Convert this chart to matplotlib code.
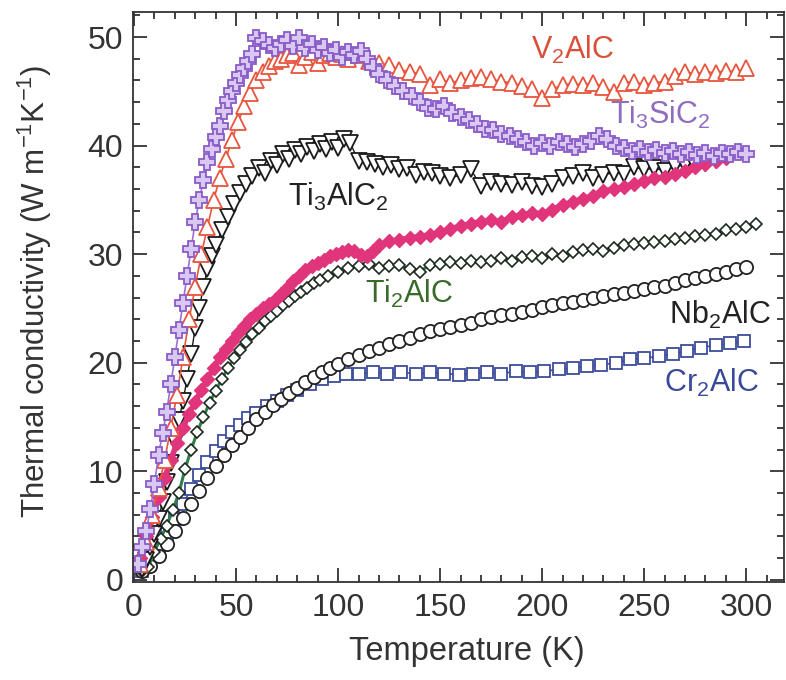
import matplotlib
matplotlib.use("Agg")
import matplotlib.pyplot as plt
from matplotlib.ticker import MultipleLocator

plt.rcParams["font.family"] = ["Liberation Sans", "DejaVu Sans"]
plt.rcParams["mathtext.fontset"] = "custom"
plt.rcParams["mathtext.rm"] = "Liberation Sans"
plt.rcParams["mathtext.it"] = "Liberation Sans"
plt.rcParams["mathtext.default"] = "rm"

# Ti3SiC2 (purple crosses)
ti3sic2_t = [2, 4, 6, 8, 10, 12, 14, 16, 18, 20, 22, 24, 26, 28, 30, 32, 34, 36, 38, 40,
             42, 44, 46, 48, 50, 52, 54, 56, 58, 60,
             63, 66, 69, 72, 75, 78, 81, 84, 87, 90, 93, 96, 99, 102, 105, 108, 111, 114, 117, 120,
             124, 128, 132, 136, 140, 144, 148, 152, 156, 160, 164, 168, 172, 176, 180, 184, 188,
             192, 196, 200, 204, 208, 212, 216, 220, 224, 228, 232, 236, 240, 244, 248, 252, 256,
             260, 264, 268, 272, 276, 280, 284, 288, 292, 296, 300]
ti3sic2_k = [1.5, 3.0, 4.5, 6.5, 8.8, 11.5, 13.5, 15.5, 18.0, 20.5, 23.0, 25.5, 28.0, 30.5, 33.0,
             35.0, 36.8, 38.5, 39.7, 40.8, 41.8, 43.2, 44.2, 45.0, 45.8, 46.5, 47.1, 47.8, 48.4, 49.9,
             49.6, 49.3, 49.0, 49.4, 49.7, 49.2, 49.9, 49.0, 49.4, 48.8, 49.1, 48.5, 48.8, 48.2,
             48.6, 48.3, 48.7, 48.0, 47.2, 46.6,
             46.0, 45.5, 45.0, 44.6, 44.0, 43.5, 43.4, 43.6, 43.0, 42.6, 42.4, 42.0, 41.5, 41.4,
             41.1, 40.9, 40.6, 40.3, 40.0, 40.2, 40.0, 40.3, 40.1, 39.9, 40.1, 40.4, 40.9, 40.6,
             40.0, 39.8, 39.5, 39.7, 39.4, 39.6, 39.3, 39.5, 39.2, 39.4, 39.1, 39.3, 39.0, 39.3,
             39.2, 39.4, 39.2]

# V2AlC (red triangles)
v2alc_t = [3, 6, 9, 12, 15, 18, 21, 24, 27, 30, 33, 36, 39, 42, 45, 48, 51, 54, 57, 60, 63, 66,
           69, 72, 75, 78, 81, 84, 87, 90, 93, 96, 99, 102, 105, 110, 115, 120, 125, 130, 135,
           140, 145, 150, 155, 160, 165, 170, 175, 180, 185, 190, 195, 200, 205, 210, 215, 220,
           225, 230, 235, 240, 245, 250, 255, 260, 265, 270, 275, 280, 285, 290, 295, 300]
v2alc_k = [1.5, 3.5, 6.0, 8.5, 11.0, 14.0, 17.0, 20.5, 24.0, 27.0, 30.0, 32.5, 35.0, 37.0, 38.8,
           40.5, 42.2, 43.6, 44.8, 46.0, 46.8, 47.3, 47.8, 48.0, 48.3, 48.5, 47.4, 48.2, 48.6,
           47.6, 48.3, 48.5, 48.2, 48.4, 48.0, 48.3, 47.8, 47.6, 47.4, 47.0, 46.8, 46.6, 45.6,
           46.1, 45.8, 46.0, 46.2, 46.3, 46.1, 45.9, 45.8, 45.5, 45.2, 44.4, 45.2, 45.6, 45.7,
           45.6, 45.8, 45.4, 44.9, 45.8, 45.9, 45.6, 45.8, 45.9, 46.4, 46.8, 46.6, 46.8, 46.7,
           46.9, 46.8, 47.1]

# Ti3AlC2 (black down triangles)
ti3alc2_t = [4, 6, 8, 10, 12, 14, 16, 18, 20, 22, 24, 26, 28, 30, 32, 34, 36, 38, 40, 43, 46, 49,
             52, 55, 58, 61, 64, 67, 70, 73, 76, 79, 82, 85, 88, 91, 94, 97, 100, 103, 106, 110,
             114, 118, 122, 126, 130, 134, 138, 142, 146, 150, 155, 160, 165, 170, 175, 180, 185,
             190, 195, 200, 205, 210, 215, 220, 225, 230, 235, 240, 245, 250, 255, 260, 265, 270,
             275, 280, 285]
ti3alc2_k = [1.0, 1.8, 3.0, 4.2, 5.6, 7.2, 9.0, 10.8, 12.7, 14.7, 16.5, 18.5, 20.8, 23.2, 25.0,
             27.0, 28.6, 29.8, 30.8, 32.2, 33.4, 34.6, 35.6, 36.5, 37.2, 37.9, 37.5, 38.6, 38.2,
             39.2, 38.8, 39.6, 39.2, 39.9, 39.5, 40.1, 39.7, 40.3, 39.8, 40.6, 40.2, 38.6, 38.5,
             38.3, 38.0, 38.2, 37.8, 37.9, 37.3, 37.6, 37.5, 37.2, 37.0, 37.3, 37.8, 36.3, 36.6,
             36.5, 36.4, 36.6, 36.3, 36.2, 36.5, 37.0, 37.2, 37.5, 37.0, 37.3, 37.5, 37.4, 38.0,
             37.8, 37.9, 37.7, 38.1, 38.2, 38.2, 38.4, 38.7]

# unlabelled pink series
pink_t = [3, 6, 9, 12, 15, 18, 21, 24, 27, 30, 33, 36, 39, 42, 45, 48, 51, 54, 57, 60, 63, 66, 69,
          72, 75, 78, 81, 84, 87, 90, 93, 96, 99, 102, 105, 108, 111, 114, 117, 120, 125, 130,
          135, 140, 145, 150, 155, 160, 165, 170, 175, 180, 185, 190, 195, 200, 205, 210, 215,
          220, 225, 230, 235, 240, 245, 250, 255, 260, 265, 270, 275, 280, 285, 290]
pink_k = [2.0, 4.0, 5.8, 7.6, 9.4, 11.0, 12.6, 14.0, 15.3, 16.4, 17.5, 18.5, 19.5, 20.5, 21.3,
          22.0, 22.7, 23.4, 24.0, 24.5, 25.0, 25.4, 25.8, 26.3, 26.9, 27.5, 28.0, 28.5, 28.9,
          29.2, 29.5, 29.8, 30.0, 30.2, 30.4, 30.3, 29.9, 29.8, 30.3, 30.8, 31.2, 31.3, 31.5,
          31.6, 31.8, 32.0, 32.3, 32.6, 32.8, 33.0, 33.1, 33.0, 33.4, 33.6, 33.8, 33.7, 34.1,
          34.5, 34.8, 35.1, 35.4, 35.8, 36.0, 36.2, 36.5, 36.7, 37.0, 37.1, 37.4, 37.7, 38.0,
          38.3, 38.6, 38.9]

# Ti2AlC (green)
ti2alc_t = [4, 7, 10, 13, 16, 19, 22, 25, 28, 31, 34, 37, 40, 43, 46, 49, 52, 55, 58, 61, 64, 67,
            70, 73, 76, 79, 82, 85, 88, 91, 95, 100, 105, 110, 115, 120, 125, 130, 135, 140, 145,
            150, 155, 160, 165, 170, 175, 180, 185, 190, 195, 200, 205, 210, 215, 220, 225, 230,
            235, 240, 245, 250, 255, 260, 265, 270, 275, 280, 285, 290, 295, 300, 305]
ti2alc_k = [0.8, 1.2, 2.6, 3.8, 5.0, 6.4, 8.0, 10.2, 12.0, 13.6, 15.0, 16.3, 17.4, 18.5, 19.5,
            20.4, 21.2, 21.9, 22.6, 23.2, 23.8, 24.3, 24.8, 25.3, 25.7, 26.1, 26.5, 26.9, 27.3,
            27.6, 28.0, 28.4, 28.7, 28.9, 29.1, 28.7, 28.9, 29.0, 28.6, 28.4, 29.0, 29.1, 29.3,
            29.2, 29.4, 29.3, 29.4, 29.6, 29.4, 29.7, 29.8, 29.6, 30.0, 29.8, 30.2, 30.4, 30.5,
            30.3, 30.6, 30.8, 30.9, 31.0, 31.1, 31.2, 31.4, 31.5, 31.7, 31.8, 31.9, 32.2, 32.3,
            32.5, 32.8]

# Nb2AlC (open circles)
nb2alc_t = [4, 8, 12, 16, 20, 24, 28, 32, 36, 40, 44, 48, 52, 56, 60, 64, 68, 72, 76, 80, 84, 88,
            92, 96, 100, 105, 110, 115, 120, 125, 130, 135, 140, 145, 150, 155, 160, 165, 170,
            175, 180, 185, 190, 195, 200, 205, 210, 215, 220, 225, 230, 235, 240, 245, 250, 255,
            260, 265, 270, 275, 280, 285, 290, 295, 300]
nb2alc_k = [0.8, 1.3, 2.2, 3.3, 4.5, 5.7, 7.0, 8.2, 9.4, 10.5, 11.5, 12.4, 13.2, 14.0, 14.8,
            15.5, 16.1, 16.7, 17.2, 17.7, 18.2, 18.7, 19.1, 19.5, 19.9, 20.3, 20.7, 21.1, 21.4,
            21.7, 22.0, 22.3, 22.6, 22.9, 23.1, 23.3, 23.5, 23.7, 24.0, 24.2, 24.4, 24.5, 24.7,
            24.9, 25.1, 25.3, 25.5, 25.6, 25.8, 26.0, 26.1, 26.3, 26.4, 26.6, 26.8, 27.0, 27.1,
            27.3, 27.6, 27.8, 28.0, 28.2, 28.4, 28.6, 28.8]

# Cr2AlC (blue squares)
cr2alc_t = [4, 8, 12, 16, 20, 24, 28, 32, 36, 40, 44, 48, 52, 56, 60, 65, 70, 75, 80, 86, 92, 98,
            104, 110, 117, 124, 131, 138, 145, 152, 159, 166, 173, 180, 187, 194, 201, 208, 215,
            222, 229, 236, 243, 250, 257, 264, 271, 278, 285, 292, 299]
cr2alc_k = [0.8, 1.5, 2.8, 4.2, 5.6, 7.0, 8.4, 9.7, 10.9, 11.9, 12.8, 13.6, 14.3, 14.9, 15.4,
            16.0, 16.5, 17.0, 17.5, 18.0, 18.5, 18.8, 19.0, 19.0, 19.1, 19.0, 19.1, 19.0, 19.1,
            19.0, 18.9, 19.0, 19.1, 19.0, 19.2, 19.1, 19.2, 19.4, 19.5, 19.7, 19.8, 20.0, 20.3,
            20.4, 20.6, 20.8, 21.1, 21.4, 21.6, 21.8, 22.0]

fig = plt.figure(figsize=(7.86, 6.8), dpi=100)
ax = fig.add_axes([0.1692, 0.1441, 0.8283, 0.8382])

ax.plot(cr2alc_t, cr2alc_k, color="#3d4c9c", lw=1.2, marker="s", ms=9, mfc="white",
        mec="#3d4c9c", mew=1.3)
ax.plot(nb2alc_t, nb2alc_k, color="#222222", lw=0.6, marker="o", ms=9.5, mfc="white",
        mec="#222222", mew=1.3)
ax.plot(ti2alc_t, ti2alc_k, color="#2e7d45", lw=2.2, marker="D", ms=6.5, mfc="white",
        mec="#1c2a1e", mew=1.2)
ax.plot(ti3alc2_t, ti3alc2_k, color="#1a1a1a", lw=1.0, marker="v", ms=11, mfc="white",
        mec="#1a1a1a", mew=1.3)
ax.plot(pink_t, pink_k, color="#e0357a", lw=4, marker="D", ms=7, mfc="#e0357a",
        mec="#e0357a")
ax.plot(v2alc_t, v2alc_k, color="#e8553e", lw=1.2, marker="^", ms=11, mfc="white",
        mec="#e8553e", mew=1.3)
ax.plot(ti3sic2_t, ti3sic2_k, color="#9a72d6", lw=1.2, marker="P", ms=11, mfc="#d8c8f2",
        mec="#8a5cc8", mew=1.3)

label_kw = dict(fontsize=22, ha="center", va="center")
ax.text(215, 48.8, r"V$_2$AlC", color="#d9503a", **label_kw)
ax.text(258, 42.8, r"Ti$_3$SiC$_2$", color="#8f6cc0", **label_kw)
ax.text(100, 35.3, r"Ti$_3$AlC$_2$", color="#222222", **label_kw)
ax.text(135, 26.3, r"Ti$_2$AlC", color="#3a6a2a", **label_kw)
ax.text(287, 24.4, r"Nb$_2$AlC", color="#222222", **label_kw)
ax.text(283, 18.1, r"Cr$_2$AlC", color="#3a4a9a", **label_kw)

ax.set_xlim(-0.5, 318.5)
ax.set_ylim(-0.2, 52.3)
ax.xaxis.set_major_locator(MultipleLocator(50))
ax.xaxis.set_minor_locator(MultipleLocator(10))
ax.yaxis.set_major_locator(MultipleLocator(10))
ax.yaxis.set_minor_locator(MultipleLocator(2))
ax.tick_params(which="both", direction="in", top=True, right=True, width=1.3,
               labelsize=23, colors="#333333")
ax.tick_params(which="major", length=10)
ax.tick_params(axis="x", which="major", pad=8)
ax.tick_params(axis="y", which="major", pad=7)
ax.tick_params(which="minor", length=5)
for s in ax.spines.values():
    s.set_linewidth(1.3)
    s.set_color("#333333")

ax.set_xlabel("Temperature (K)", fontsize=23.5, color="#333333", va="top")
ax.xaxis.set_label_coords(0.513, -0.095)
ax.set_ylabel(r"Thermal conductivity (W m$^{-1}$K$^{-1}$)", fontsize=22.5, color="#333333")
ax.yaxis.set_label_coords(-0.121, 0.51)

fig.savefig("out.png", dpi=100)
